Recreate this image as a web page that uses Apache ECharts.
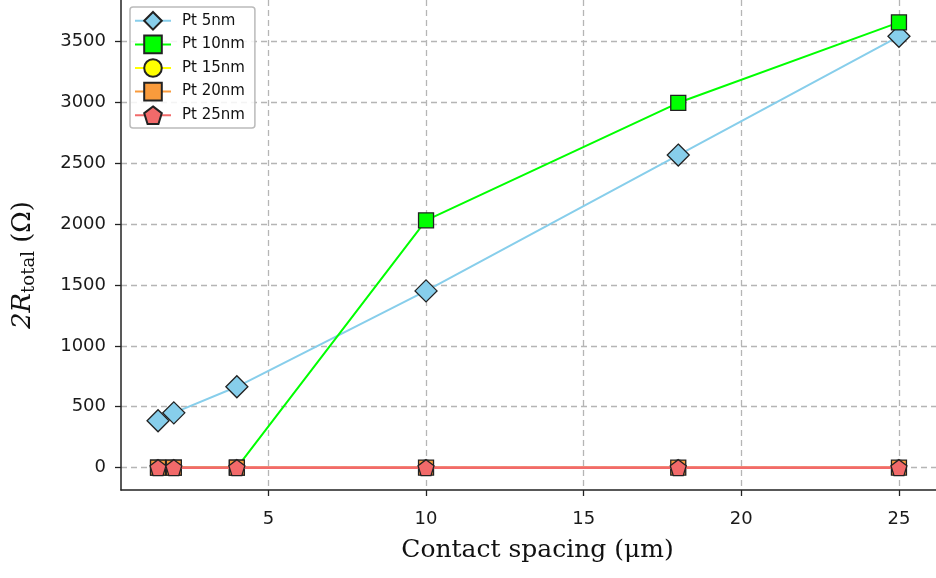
<!DOCTYPE html>
<html><head><meta charset="utf-8">
<script src="https://cdn.jsdelivr.net/npm/echarts@6/dist/echarts.min.js"></script>
<style>html,body{margin:0;padding:0;background:#fff}#c{width:936px;height:578px}</style>
</head><body><div id="c"></div>
<script>
const spacing = [1.5, 2, 4, 10, 18, 25];
const pt5 = [385, 450, 664, 1451, 2566, 3541];
const pt10 = [0, 0, 0, 2030, 2995, 3655];
const pt15 = [0, 0, 0, 0, 0, 0];
const pt20 = [0, 0, 0, 0, 0, 0];
const pt25 = [0, 0, 0, 0, 0, 0];
const xTicks = [5, 10, 15, 20, 25];
const yTicks = [0, 500, 1000, 1500, 2000, 2500, 3000, 3500];
const names = ['Pt 5nm', 'Pt 10nm', 'Pt 15nm', 'Pt 20nm', 'Pt 25nm'];

const pentagon = 'path://M0,-1 L0.951,-0.309 L0.588,0.809 L-0.588,0.809 L-0.951,-0.309 Z';
const styles = [
  {c:'#87CEEB', sym:'diamond', size:[22,22]},
  {c:'#00FF00', sym:'rect', size:[15,15]},
  {c:'#FFFF00', sym:'circle', size:[15,15]},
  {c:'#F99B3C', sym:'rect', size:[15,15]},
  {c:'#F26A6A', sym:pentagon, size:[16,16]}
];
const vals = [pt5, pt10, pt15, pt20, pt25];
const series = vals.map((v, i) => ({
  name: names[i], type: 'line',
  data: spacing.map((x, j) => [x, v[j]]),
  symbol: styles[i].sym, symbolSize: styles[i].size,
  lineStyle: {color: styles[i].c, width: i === 4 ? 2.6 : 2},
  itemStyle: {color: styles[i].c, borderColor: '#222', borderWidth: 1.3},
  emphasis: {disabled: true},
  zlevel: i === 4 ? 1 : 0,
  z: 10 + i * 2, animation: false
}));

const chart = echarts.init(document.getElementById('c'), null, {renderer: 'canvas'});
chart.setOption({
  animation: false,
  legend: {
    show: true, orient: 'vertical', left: 130, top: 7,
    data: names, itemWidth: 36, itemHeight: 22, itemGap: 4,
    padding: [4, 10, 3, 4],
    borderColor: '#bbb', borderWidth: 1.5, borderRadius: 3,
    backgroundColor: 'rgba(255,255,255,0.85)',
    textStyle: {fontFamily: 'DejaVu Sans', fontSize: 15, color: '#111', padding: [0, 0, 0, 6]}
  },
  grid: {left: 121, top: 0, width: 822, height: 490, containLabel: false},
  xAxis: {
    type: 'value', min: 0.325, max: 26.175,
    name: 'Contact spacing (μm)', nameLocation: 'middle', nameGap: 48,
    nameTextStyle: {fontFamily: 'DejaVu Serif', fontSize: 25, color: '#111', padding: [0, 0, 0, 18]},
    axisLine: {show: true, onZero: false, lineStyle: {color: '#222', width: 1.5}},
    axisTick: {show: true, length: 6, customValues: xTicks, lineStyle: {color: '#222', width: 1.3}},
    axisLabel: {customValues: xTicks, fontFamily: 'DejaVu Sans', fontSize: 18, color: '#1a1a1a', margin: 20,
      formatter: v => String(v)},
    splitLine: {show: true, lineStyle: {color: '#b5b5b5', type: [6, 4], width: 1.3}}
  },
  yAxis: {
    type: 'value', min: -183.4, max: 3839,
    name: '{r|2R}{s|total}{n| (Ω)}', nameLocation: 'middle', nameGap: 83, nameRotate: 90,
    nameTextStyle: {
      fontFamily: 'DejaVu Serif', fontSize: 26, color: '#111', padding: [0, 40, 0, 0],
      rich: {
        r: {fontFamily: 'DejaVu Serif', fontStyle: 'italic', fontSize: 26, color: '#111'},
        s: {fontFamily: 'DejaVu Serif', fontSize: 18, color: '#111', verticalAlign: 'bottom', padding: [11, 0, 0, 0]},
        n: {fontFamily: 'DejaVu Serif', fontSize: 26, color: '#111'}
      }
    },
    axisLine: {show: true, onZero: false, lineStyle: {color: '#222', width: 1.5}},
    axisTick: {show: true, length: 6, customValues: yTicks, lineStyle: {color: '#222', width: 1.3}},
    axisLabel: {customValues: yTicks, fontFamily: 'DejaVu Sans', fontSize: 18, color: '#1a1a1a', margin: 15,
      formatter: v => String(v)},
    splitLine: {show: true, lineStyle: {color: '#b5b5b5', type: [6, 4], width: 1.3}}
  },
  series: series
});
</script></body></html>
